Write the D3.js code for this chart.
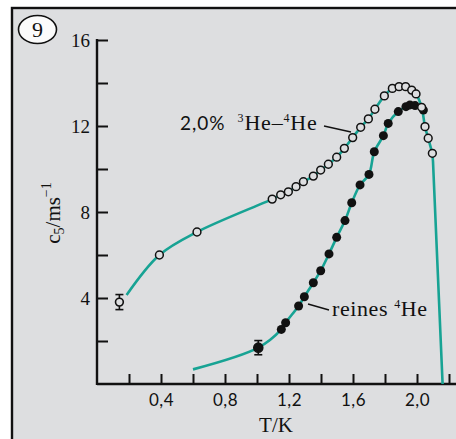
<!DOCTYPE html>
<html>
<head>
<meta charset="utf-8">
<script src="https://cdn.jsdelivr.net/npm/d3@7"></script>
<style>
  body { margin: 0; background: #fff; }
  svg { display: block; }
  .axis text { font-family: "Liberation Serif", serif; font-size: 19px; fill: #111; }
  .x-axis text { font-family: Lato, sans-serif; font-size: 17px; letter-spacing: 0.5px; }
  .axis .tick line { stroke: #111; stroke-width: 2px; }
  .axis path.domain { display: none; }
  .lbl { font-family: "Liberation Serif", serif; fill: #111; }
</style>
</head>
<body>
<div id="chart"></div>
<script>
// 2,0% 3He-4He mixture (open circles)
const mixT = [0.39, 0.625, 1.095, 1.148, 1.196, 1.244, 1.29, 1.352, 1.398, 1.446, 1.498, 1.546, 1.598, 1.648, 1.696, 1.737, 1.796, 1.846, 1.888, 1.929, 1.967, 1.994, 2.029, 2.05, 2.07, 2.096];
const mixC = [6.0, 7.07, 8.6, 8.8, 8.94, 9.18, 9.41, 9.67, 9.95, 10.22, 10.55, 10.96, 11.46, 11.94, 12.33, 12.78, 13.4, 13.75, 13.83, 13.83, 13.67, 13.49, 12.87, 11.97, 11.43, 10.73];
// pure 4He (filled circles)
const pureT = [1.152, 1.179, 1.26, 1.296, 1.352, 1.398, 1.45, 1.498, 1.55, 1.592, 1.644, 1.70, 1.733, 1.79, 1.82, 1.883, 1.931, 1.956, 1.988, 2.04];
const pureC = [2.54, 2.85, 3.63, 4.06, 4.71, 5.27, 6.05, 6.82, 7.6, 8.43, 9.26, 9.75, 10.8, 11.55, 12.12, 12.67, 12.9, 12.98, 12.95, 12.74];
// points with error bars [T, c, err]
const mixErr = [0.14, 3.81, 0.35];
const pureErr = [1.008, 1.69, 0.33];
// curve ends
const mixStart = [0.185, 4.14];
const mixDrop = [[2.1, 10.35], [2.16, 0]];
const pureStart = [0.6, 0.68];

const xTicks = [0.2, 0.4, 0.6, 0.8, 1.0, 1.2, 1.4, 1.6, 1.8, 2.0, 2.2];
const xLabels = [0.4, 0.8, 1.2, 1.6, 2.0];
const yTicks = [2, 4, 6, 8, 10, 12, 14, 16];
const yLabels = [4, 8, 12, 16];

const W = 456, H = 439;
const green = "#17a394", bg = "#dddee0";

const svg = d3.select("#chart").append("svg").attr("width", W).attr("height", H);

// frame
svg.append("rect").attr("x", 12).attr("y", 8).attr("width", W + 10).attr("height", H + 10)
  .attr("fill", bg).attr("stroke", "#111").attr("stroke-width", 2.4);

// number badge
svg.append("ellipse").attr("cx", 37.5).attr("cy", 29.5).attr("rx", 19).attr("ry", 14)
  .attr("fill", "#fbfbfb").attr("stroke", "#111").attr("stroke-width", 1.6);
svg.append("text").attr("class", "lbl").attr("x", 37.5).attr("y", 37).attr("text-anchor", "middle")
  .style("font-size", "22px").text("9");

const x = d3.scaleLinear().domain([0, 2.2]).range([97, 449]);
const y = d3.scaleLinear().domain([0, 16]).range([384, 40]);

// axes
const fmt = d => d.toFixed(1).replace(".", ",");
svg.append("g").attr("class", "axis x-axis")
  .attr("transform", `translate(0,${y(0)})`)
  .call(d3.axisBottom(x).tickValues(xTicks).tickSize(-10).tickPadding(10)
    .tickFormat(d => xLabels.some(v => Math.abs(v - d) < 1e-6) ? fmt(d) : ""));
svg.append("g").attr("class", "axis y-axis")
  .attr("transform", `translate(${x(0)},0)`)
  .call(d3.axisLeft(y).tickValues(yTicks).tickSize(-11).tickPadding(7)
    .tickFormat(d => yLabels.includes(d) ? d : ""));

svg.append("line").attr("x1", x(0)).attr("x2", W).attr("y1", y(0)).attr("y2", y(0))
  .attr("stroke", "#111").attr("stroke-width", 2.4);
svg.append("line").attr("x1", x(0)).attr("x2", x(0)).attr("y1", y(0) + 1).attr("y2", y(16) - 1)
  .attr("stroke", "#111").attr("stroke-width", 2.4);

// axis titles
svg.append("text").attr("class", "lbl").attr("x", 276).attr("y", 432).attr("text-anchor", "middle")
  .style("font-size", "21px").text("T/K");
const yl = svg.append("text").attr("class", "lbl").attr("transform", "translate(60,213) rotate(-90)")
  .attr("text-anchor", "middle").style("font-size", "21px");
yl.append("tspan").text("c");
yl.append("tspan").attr("dy", 4).style("font-size", "14px").text("5");
yl.append("tspan").attr("dy", -4).text("/ms");
yl.append("tspan").attr("dy", -9).style("font-size", "14px").text("−1");

// curves
const line = d3.line().x(d => x(d[0])).y(d => y(d[1])).curve(d3.curveCatmullRom.alpha(0.5));
const mixPts = [mixStart].concat(mixT.map((t, i) => [t, mixC[i]]));
const purePts = [pureStart, [pureErr[0], pureErr[1]]].concat(pureT.map((t, i) => [t, pureC[i]]));

svg.append("path").attr("d", line(mixPts)).attr("fill", "none").attr("stroke", green).attr("stroke-width", 2.6);
svg.append("path").attr("d", d3.line().x(d => x(d[0])).y(d => y(d[1]))([mixPts[mixPts.length - 1], ...mixDrop]))
  .attr("fill", "none").attr("stroke", green).attr("stroke-width", 2.6);
svg.append("path").attr("d", line(purePts)).attr("fill", "none").attr("stroke", green).attr("stroke-width", 2.6);

// error bars
[[mixErr, bg], [pureErr, "#111"]].forEach(([e, fill]) => {
  const g = svg.append("g").attr("stroke", "#111").attr("stroke-width", 1.6);
  g.append("line").attr("x1", x(e[0])).attr("x2", x(e[0])).attr("y1", y(e[1] - e[2])).attr("y2", y(e[1] + e[2]));
  [e[1] - e[2], e[1] + e[2]].forEach(v => g.append("line")
    .attr("x1", x(e[0]) - 4).attr("x2", x(e[0]) + 4).attr("y1", y(v)).attr("y2", y(v)));
  g.append("circle").attr("cx", x(e[0])).attr("cy", y(e[1])).attr("r", fill === "#111" ? 4.5 : 3.9).attr("fill", fill);
});

// markers
svg.selectAll(".pure").data(pureT).join("circle").attr("class", "pure")
  .attr("cx", d => x(d)).attr("cy", (d, i) => y(pureC[i])).attr("r", 4.5).attr("fill", "#111");
svg.selectAll(".mix").data(mixT).join("circle").attr("class", "mix")
  .attr("cx", d => x(d)).attr("cy", (d, i) => y(mixC[i])).attr("r", 3.9)
  .attr("fill", bg).attr("stroke", "#111").attr("stroke-width", 1.5);

// labels
const lab1 = svg.append("text").attr("class", "lbl").attr("x", 180).attr("y", 130)
  .style("font-size", "22px").style("letter-spacing", "0.8px");
lab1.append("tspan").style("font-family", "Lato, sans-serif").style("font-size", "19px")
  .style("letter-spacing", "1px").text("2,0%");
lab1.append("tspan").attr("dx", 12).attr("dy", -8).style("font-size", "12px").text("3");
lab1.append("tspan").attr("dy", 8).text("He–");
lab1.append("tspan").attr("dy", -8).style("font-size", "12px").text("4");
lab1.append("tspan").attr("dy", 8).text("He");
svg.append("line").attr("x1", 324).attr("y1", 126).attr("x2", 351).attr("y2", 132)
  .attr("stroke", "#111").attr("stroke-width", 1.4);

const lab2 = svg.append("text").attr("class", "lbl").attr("x", 332).attr("y", 316)
  .style("font-size", "22px").style("letter-spacing", "0.6px");
lab2.append("tspan").text("reines ");
lab2.append("tspan").attr("dy", -8).style("font-size", "12px").text("4");
lab2.append("tspan").attr("dy", 8).text("He");
svg.append("line").attr("x1", 308).attr("y1", 304).attr("x2", 329).attr("y2", 310)
  .attr("stroke", "#111").attr("stroke-width", 1.4);
</script>
</body>
</html>
